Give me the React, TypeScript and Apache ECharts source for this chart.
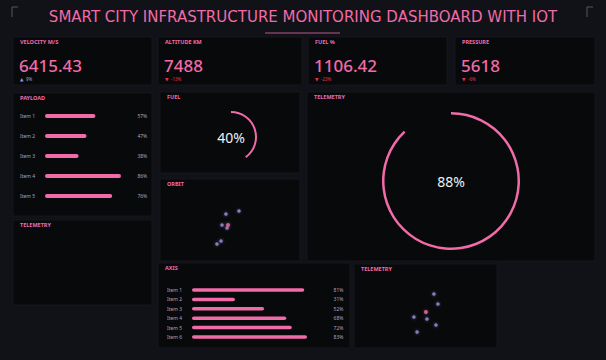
import React, { useEffect, useRef } from "react";
import * as echarts from "echarts";

// Dashboard content
const TITLE = "SMART CITY INFRASTRUCTURE MONITORING DASHBOARD WITH IOT";
const kpiLabels = ["VELOCITY M/S", "ALTITUDE KM", "FUEL %", "PRESSURE"];
const kpiValues = ["6415.43", "7488", "1106.42", "5618"];
const kpiDeltas = [9, -13, -23, -6];

const payloadItems = ["Item 1", "Item 2", "Item 3", "Item 4", "Item 5"];
const payloadValues = [57, 47, 38, 86, 76];

const axisItems = ["Item 1", "Item 2", "Item 3", "Item 4", "Item 5", "Item 6"];
const axisValues = [81, 31, 52, 68, 72, 83];

const fuelGauge = 40;
const telemetryGauge = 88;

const orbitPoints = [
  [56.4, 70.4],
  [47.1, 66.2],
  [44.3, 50.7],
  [47.9, 46.5],
  [43.6, 28.2],
  [40.7, 23.9],
];
const orbitFocus = [[48.6, 50.7]];

const telemetryPoints = [
  [55.9, 69.2],
  [58.7, 56.4],
  [41.9, 39.7],
  [51.0, 37.2],
  [57.3, 29.5],
  [44.1, 20.5],
];
const telemetryFocus = [[50.3, 46.2]];

const PINK = "#f06ba8";
const PURPLE = "#9d92e0";
const RED = "#e8334a";
const PANEL = "#08090b";
const PAGE = "#111217";
const LABEL = "#a3a5c2";
const FONT = "'Noto Sans', 'DejaVu Sans', sans-serif";

type Box = [number, number, number, number];

const kpiBoxes: Box[] = [
  [13, 37, 139, 48],
  [158, 37, 144, 48],
  [308, 37, 139, 48],
  [455, 37, 140, 48],
];

const panels: { box: Box; title: string }[] = [
  { box: [13, 93, 139, 123], title: "PAYLOAD" },
  { box: [13, 220, 139, 85], title: "TELEMETRY" },
  { box: [160, 92, 140, 81], title: "FUEL" },
  { box: [160, 179, 140, 82], title: "ORBIT" },
  { box: [307, 92, 288, 169], title: "TELEMETRY" },
  { box: [158, 263, 192, 85], title: "AXIS" },
  { box: [354, 264, 143, 84], title: "TELEMETRY" },
];

function panelRect(b: Box) {
  return {
    type: "rect",
    shape: { x: b[0], y: b[1], width: b[2], height: b[3] },
    style: { fill: PANEL, stroke: "#16171d", lineWidth: 1 },
    silent: true,
  };
}

function panelTitle(b: Box, t: string) {
  return {
    type: "text",
    x: b[0] + 7,
    y: b[1] + 5,
    style: {
      text: t,
      fill: PINK,
      font: `bold 5.5px ${FONT}`,
      textVerticalAlign: "middle",
    },
    silent: true,
  };
}

function gaugeSeries(value: number, cx: number, cy: number, r: number, w: number) {
  return {
    type: "gauge",
    center: [cx, cy],
    radius: r,
    startAngle: 90,
    endAngle: -270,
    min: 0,
    max: 100,
    progress: { show: true, width: w, roundCap: false, itemStyle: { color: PINK } },
    axisLine: { lineStyle: { width: w, color: [[1, "rgba(0,0,0,0)"]] } },
    splitLine: { show: false },
    axisTick: { show: false },
    axisLabel: { show: false },
    pointer: { show: false },
    anchor: { show: false },
    title: { show: false },
    detail: {
      offsetCenter: [0, 0],
      formatter: "{value}%",
      fontSize: 14,
      fontFamily: FONT,
      color: "#f0f0f2",
      fontWeight: "normal",
    },
    data: [{ value }],
  };
}

export default function App() {
  const ref = useRef<HTMLDivElement>(null);

  useEffect(() => {
    if (!ref.current) return;
    const chart = echarts.init(ref.current, undefined, { renderer: "svg" });

    const graphics: any[] = [];
    // header with corner brackets and underline
    graphics.push({
      type: "polyline",
      shape: { points: [[12, 17], [12, 7], [18, 7]] },
      style: { stroke: "#55565e", lineWidth: 1, fill: "none" },
    });
    graphics.push({
      type: "polyline",
      shape: { points: [[587, 17], [587, 7], [593, 7]] },
      style: { stroke: "#55565e", lineWidth: 1, fill: "none" },
    });
    graphics.push({
      type: "text",
      x: 303,
      y: 17,
      style: {
        text: TITLE,
        fill: PINK,
        font: `15px 'DejaVu Sans', sans-serif`,
        textAlign: "center",
        textVerticalAlign: "middle",
      },
    });
    graphics.push({
      type: "line",
      shape: { x1: 265, y1: 33, x2: 340, y2: 33 },
      style: { stroke: "#b9578a", lineWidth: 1 },
    });

    // KPI cards
    kpiBoxes.forEach((b, i) => {
      graphics.push(panelRect(b));
      graphics.push(panelTitle(b, kpiLabels[i]));
      graphics.push({
        type: "text",
        x: b[0] + 6,
        y: b[1] + 28,
        style: {
          text: kpiValues[i],
          fill: PINK,
          font: `500 17px ${FONT}`,
          textVerticalAlign: "middle",
        },
      });
      const d = kpiDeltas[i];
      const up = d >= 0;
      graphics.push({
        type: "text",
        x: b[0] + 7,
        y: b[1] + 42,
        style: {
          text: up ? "▲" : "▼",
          fill: up ? PURPLE : RED,
          font: `4.5px ${FONT}`,
          textVerticalAlign: "middle",
        },
      });
      graphics.push({
        type: "text",
        x: b[0] + 13,
        y: b[1] + 42,
        style: {
          text: `${d}%`,
          fill: up ? LABEL : RED,
          font: `4.5px ${FONT}`,
          textVerticalAlign: "middle",
        },
      });
    });

    panels.forEach((p) => {
      graphics.push(panelRect(p.box));
      graphics.push(panelTitle(p.box, p.title));
    });

    const hiddenValueAxis = (gridIndex: number) => ({
      type: "value",
      gridIndex,
      min: 0,
      max: 100,
      show: false,
    });

    const catAxis = (gridIndex: number, data: string[], position: string, margin: number) => ({
      type: "category",
      gridIndex,
      data,
      inverse: true,
      position,
      axisLine: { show: false },
      axisTick: { show: false },
      splitLine: { show: false },
      axisLabel: {
        color: LABEL,
        fontSize: 5,
        fontFamily: FONT,
        align: "left",
        margin,
      },
    });

    const option: any = {
      animation: false,
      backgroundColor: PAGE,
      graphic: { elements: graphics },
      grid: [
        { left: 45, top: 106, width: 88.4, height: 100 },
        { left: 192, top: 285.3, width: 138.6, height: 56.4 },
        { left: 160, top: 190, width: 140, height: 71 },
        { left: 354, top: 270, width: 143, height: 78 },
      ],
      xAxis: [hiddenValueAxis(0), hiddenValueAxis(1), hiddenValueAxis(2), hiddenValueAxis(3)],
      yAxis: [
        catAxis(0, payloadItems, "left", 25),
        catAxis(0, payloadValues.map((v) => `${v}%`), "right", 4),
        catAxis(1, axisItems, "left", 25),
        catAxis(1, axisValues.map((v) => `${v}%`), "right", 3),
        hiddenValueAxis(2),
        hiddenValueAxis(3),
      ],
      series: [
        {
          type: "bar",
          xAxisIndex: 0,
          yAxisIndex: 0,
          data: payloadValues,
          barWidth: 4,
          itemStyle: { color: PINK, borderRadius: 2 },
        },
        {
          type: "bar",
          xAxisIndex: 1,
          yAxisIndex: 2,
          data: axisValues,
          barWidth: 3.5,
          itemStyle: { color: PINK, borderRadius: 2 },
        },
        {
          type: "scatter",
          xAxisIndex: 2,
          yAxisIndex: 4,
          data: orbitPoints,
          symbolSize: 3.5,
          itemStyle: { color: PURPLE, shadowBlur: 3, shadowColor: "rgba(157,146,224,0.6)" },
        },
        {
          type: "scatter",
          xAxisIndex: 2,
          yAxisIndex: 4,
          data: orbitFocus,
          symbolSize: 4,
          itemStyle: { color: PINK, shadowBlur: 3, shadowColor: "rgba(240,107,168,0.6)" },
        },
        {
          type: "scatter",
          xAxisIndex: 3,
          yAxisIndex: 5,
          data: telemetryPoints,
          symbolSize: 3.5,
          itemStyle: { color: PURPLE, shadowBlur: 3, shadowColor: "rgba(157,146,224,0.6)" },
        },
        {
          type: "scatter",
          xAxisIndex: 3,
          yAxisIndex: 5,
          data: telemetryFocus,
          symbolSize: 4,
          itemStyle: { color: PINK, shadowBlur: 3, shadowColor: "rgba(240,107,168,0.6)" },
        },
        gaugeSeries(fuelGauge, 231, 137, 26, 2),
        gaugeSeries(telemetryGauge, 451, 181, 69, 2.5),
      ],
    };

    chart.setOption(option);
    return () => chart.dispose();
  }, []);

  return (
    <div
      ref={ref}
      style={{ position: "fixed", left: 0, top: 0, width: 606, height: 360 }}
    />
  );
}
